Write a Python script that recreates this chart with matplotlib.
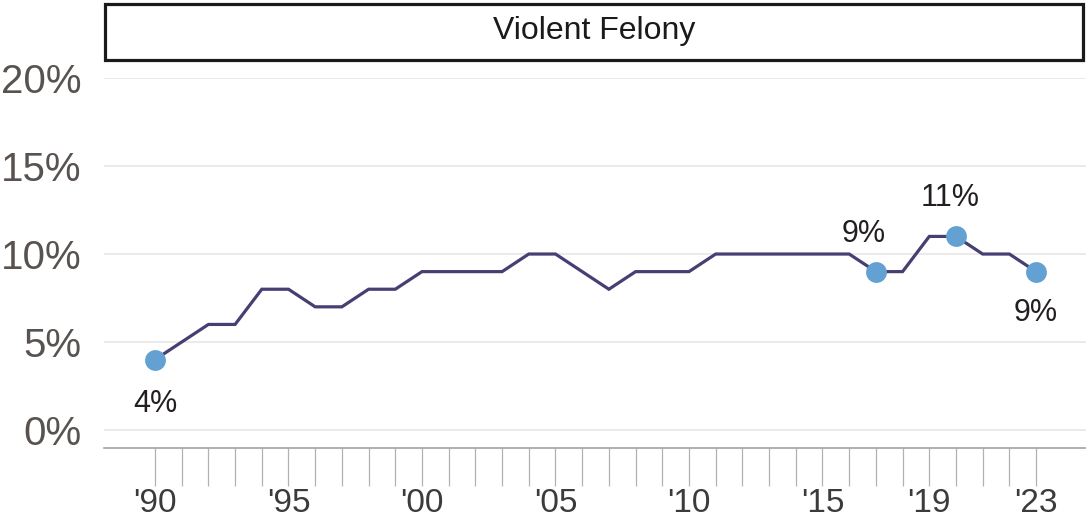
import matplotlib
matplotlib.use("Agg")
import matplotlib.pyplot as plt
from matplotlib.patches import Rectangle
from matplotlib.ticker import FixedLocator, FuncFormatter

plt.rcParams['font.family'] = ['Liberation Sans', 'DejaVu Sans']

title = "Violent Felony"
years = list(range(1990, 2024))
rates = [4, 5, 6, 6, 8, 8, 7, 7, 8, 8,
         9, 9, 9, 9, 10, 10, 9, 8, 9, 9,
         9, 10, 10, 10, 10, 10, 10, 9, 9, 11,
         11, 10, 10, 9]
labeled_years = [1990, 1995, 2000, 2005, 2010, 2015, 2019, 2023]
y_ticks = [0, 5, 10, 15, 20]
highlight_years = [1990, 2017, 2020, 2023]
# label offsets (points) relative to each highlighted point
label_offsets = {1990: (0, -32), 2017: (-9, 27), 2020: (-4, 28), 2023: (0, -30)}

W, H = 1086, 523
fig = plt.figure(figsize=(W / 100, H / 100), dpi=100)
ax = fig.add_axes([104 / W, 1 - 448 / H, (1086 - 104) / W, (448 - 78) / H])

ax.set_xlim(1988.09, 2024.87)
ax.set_ylim(-1.02, 20)

# gridlines
for v in y_ticks:
    ax.axhline(v, color='#ebe5e5', lw=1.2, zorder=0)

ax.plot(years, rates, color='#463f73', lw=2.3, zorder=2, solid_joinstyle='miter')

hx = [y for y in highlight_years]
hy = [rates[years.index(y)] for y in highlight_years]
ax.plot(hx, hy, 'o', color='#62a1d1', ms=15, mec='none', zorder=3)

for x, v in zip(hx, hy):
    dx, dy = label_offsets[x]
    ax.annotate(f"{v}%", (x, v), xytext=(dx, dy), textcoords='offset points',
                ha='center', va='center', fontsize=22, color='#231f20')

for s in ['top', 'right', 'left']:
    ax.spines[s].set_visible(False)
ax.spines['bottom'].set_color('#a6a1a1')
ax.spines['bottom'].set_linewidth(1.2)

ax.xaxis.set_major_locator(FixedLocator(labeled_years))
ax.xaxis.set_minor_locator(FixedLocator(years))
ax.xaxis.set_major_formatter(FuncFormatter(lambda v, p: "'" + f"{int(v) % 100:02d}"))
ax.tick_params(axis='x', which='both', direction='out', length=27, width=0.9,
               color='#b5b0b0')
ax.tick_params(axis='x', which='major', labelsize=24, labelcolor='#3d3a3a', pad=2)

ax.yaxis.set_major_locator(FixedLocator(y_ticks))
ax.yaxis.set_major_formatter(FuncFormatter(lambda v, p: f"{int(v)}%"))
ax.tick_params(axis='y', length=0, labelsize=29, labelcolor='#595350', pad=16)

# title box
fig.patches.append(Rectangle((105 / W, 1 - 60 / H), (1083 - 105) / W, (58 - 2) / H,
                             transform=fig.transFigure, fill=False,
                             edgecolor='#1a1a1a', lw=2.3))
fig.text(594 / W, 1 - 31 / H, title, ha='center', va='center',
         fontsize=23, color='#1a1a1a')

fig.savefig('out.png', dpi=100)
